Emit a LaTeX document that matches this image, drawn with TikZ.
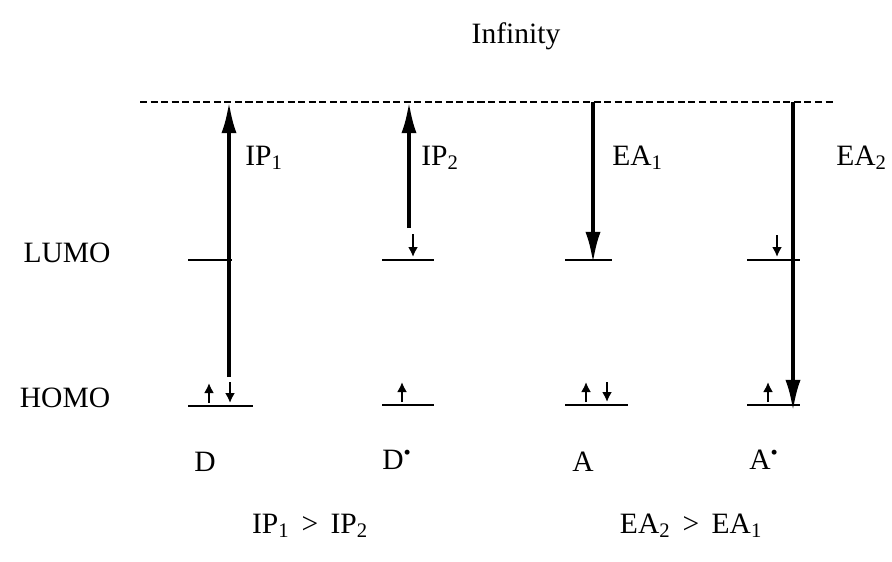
\documentclass[tikz,border=0pt]{standalone}
\usepackage{fontspec}
\setmainfont{Liberation Serif}
\usetikzlibrary{arrows.meta}
\tikzstyle{txt} = [
    font=\fontsize{21}{24}\selectfont,
    inner sep=0pt
]
\tikzstyle{level} = [line width=1.4pt]
\tikzstyle{vacuum} = [line width=1.2pt, dash pattern=on 5pt off 2.5pt]
\tikzstyle{bigarrow} = [line width=2.6pt, -{Latex[length=0.78cm,width=0.38cm]}]
\tikzstyle{spin} = [line width=1.4pt, -{Latex[length=0.25cm,width=0.25cm]}]

\begin{document}
\begin{tikzpicture}[x=0.025cm, y=-0.025cm]
\useasboundingbox (0,0) rectangle (892,561);

\node (inf) [txt] at (516,36) {Infinity};
\node (lumo) [txt] at (67,253) {LUMO};
\node (homo) [txt] at (65,398) {HOMO};

% vacuum level
\coordinate (vacL) at (140,102);
\coordinate (vacR) at (836,102);
\draw [vacuum] (vacL) -- (vacR);

% energy levels
\coordinate (dLumoL) at (188,260);  \coordinate (dLumoR) at (232,260);
\coordinate (dHomoL) at (188,406);  \coordinate (dHomoR) at (253,406);
\coordinate (dsLumoL) at (382,260); \coordinate (dsLumoR) at (434,260);
\coordinate (dsHomoL) at (382,405); \coordinate (dsHomoR) at (434,405);
\coordinate (aLumoL) at (565,260);  \coordinate (aLumoR) at (612,260);
\coordinate (aHomoL) at (565,405);  \coordinate (aHomoR) at (628,405);
\coordinate (asLumoL) at (747,260); \coordinate (asLumoR) at (800,260);
\coordinate (asHomoL) at (747,405); \coordinate (asHomoR) at (800,405);

\draw [level] (dLumoL) -- (dLumoR);
\draw [level] (dHomoL) -- (dHomoR);
\draw [level] (dsLumoL) -- (dsLumoR);
\draw [level] (dsHomoL) -- (dsHomoR);
\draw [level] (aLumoL) -- (aLumoR);
\draw [level] (aHomoL) -- (aHomoR);
\draw [level] (asLumoL) -- (asLumoR);
\draw [level] (asHomoL) -- (asHomoR);

% electrons
\coordinate (e1a) at (209,403); \coordinate (e1b) at (209,383);
\coordinate (e2a) at (230,382); \coordinate (e2b) at (230,403);
\coordinate (e3a) at (402,402); \coordinate (e3b) at (402,382);
\coordinate (e4a) at (413,234); \coordinate (e4b) at (413,257);
\coordinate (e5a) at (586,402); \coordinate (e5b) at (586,382);
\coordinate (e6a) at (607,382); \coordinate (e6b) at (607,402);
\coordinate (e7a) at (768,402); \coordinate (e7b) at (768,382);
\coordinate (e8a) at (777,235); \coordinate (e8b) at (777,257);

\draw [spin] (e1a) -- (e1b);
\draw [spin] (e2a) -- (e2b);
\draw [spin] (e3a) -- (e3b);
\draw [spin] (e4a) -- (e4b);
\draw [spin] (e5a) -- (e5b);
\draw [spin] (e6a) -- (e6b);
\draw [spin] (e7a) -- (e7b);
\draw [spin] (e8a) -- (e8b);

% ionisation and affinity
\coordinate (ip1a) at (229,377); \coordinate (ip1b) at (229,102);
\coordinate (ip2a) at (409,228); \coordinate (ip2b) at (409,102);
\coordinate (ea1a) at (593,102); \coordinate (ea1b) at (593,263);
\coordinate (ea2a) at (793,102); \coordinate (ea2b) at (793,411);

\draw [bigarrow] (ip1a) -- (ip1b);
\draw [bigarrow] (ip2a) -- (ip2b);
\draw [bigarrow] (ea1a) -- (ea1b);
\draw [bigarrow] (ea2a) -- (ea2b);

\node (ip1) [txt, anchor=west] at (245,158) {IP\textsubscript{1}};
\node (ip2) [txt, anchor=west] at (421,158) {IP\textsubscript{2}};
\node (ea1) [txt, anchor=west] at (612,158) {EA\textsubscript{1}};
\node (ea2) [txt, anchor=west] at (836,158) {EA\textsubscript{2}};

\node (d) [txt] at (205,462) {D};
\node (ds) [txt] at (397,460) {D\textsuperscript{•}};
\node (a) [txt] at (583,462) {A};
\node (as) [txt] at (764,460) {A\textsuperscript{•}};

\node (ipcmp) [txt] at (310,526) {IP\textsubscript{1} \,>\, IP\textsubscript{2}};
\node (eacmp) [txt] at (691,526) {EA\textsubscript{2} \,>\, EA\textsubscript{1}};

\end{tikzpicture}
\end{document}
